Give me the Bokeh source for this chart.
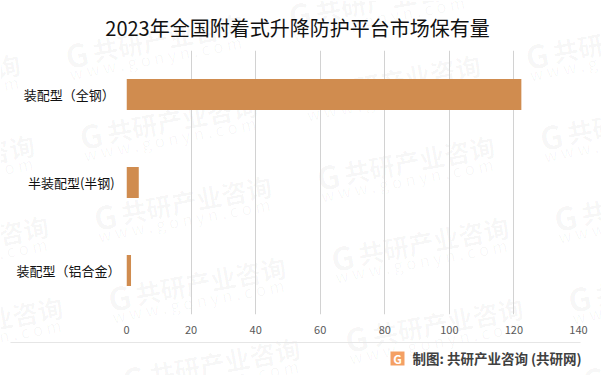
from bokeh.plotting import figure
from bokeh.layouts import column
from bokeh.models import FixedTicker, Range1d, FactorRange
from bokeh.core.properties import value
from bokeh.embed import file_html
from bokeh.resources import INLINE

categories = ["装配型（铝合金）", "半装配型(半钢)\u00a0\u00a0", "装配型（全钢）\u00a0\u00a0"]
values = [1.4, 3.8, 122.3]
x_ticks = [0, 20, 40, 60, 80, 100, 120, 140]
title_text = "2023年全国附着式升降防护平台市场保有量"
footer_text = "制图: 共研产业咨询 (共研网)"
wm_name = "共研产业咨询"
wm_site = "w w w . g o n y n . c o m"
FONT = "Noto Sans CJK SC"
W, H = 601, 375

# Page layer: pixel-scaled figure holding watermark, title and footer
bg = figure(width=W, height=H, output_backend="svg", toolbar_location=None,
            x_range=Range1d(0, W), y_range=Range1d(H, 0),
            min_border=0, x_axis_type=None, y_axis_type=None, margin=(0, 0, 0, 0))
bg.grid.visible = False
bg.outline_line_color = None
bg.background_fill_color = "white"
bg.border_fill_color = "white"

ax, ay = 14.2, 81
bx, by = 223, -40
for i in range(-2, 5):
    for j in range(-2, 6):
        gx = 65 + i * bx + j * ax
        gy = 55 + i * by + j * ay
        if gx < -160 or gx > 600 or gy < -30 or gy > 380:
            continue
        for txt, dx, dy, size, style in (("G", 0, 0, "32px", "bold"),
                                         (wm_name, 27, -5, "25.5px", "bold"),
                                         (wm_site, 4, 18, "16.5px", "normal")):
            bg.text(x=[gx + dx], y=[gy + dy], text=[txt], text_font=value(FONT), text_font_size=size,
                    text_font_style=style, text_color="#000000", text_alpha=0.035, angle=10.5,
                    angle_units="deg", text_baseline="middle", text_align="left")

bg.text(x=[297], y=[27], text=[title_text], text_font=value(FONT), text_font_size="20px",
        text_color="#111111", text_align="center", text_baseline="middle")
bg.quad(left=[10], right=[580], top=[341.5], bottom=[342.5], fill_color="#E6E6E6", line_color=None)
bg.quad(left=[390], right=[404], top=[351], bottom=[365], fill_color="#F4A064", line_color=None)
bg.text(x=[397], y=[358], text=["G"], text_font=value(FONT), text_font_size="12px", text_font_style="bold",
        text_color="white", text_align="center", text_baseline="middle")
bg.text(x=[412], y=[357], text=[footer_text], text_font=value(FONT), text_font_size="13.5px",
        text_font_style="bold", text_color="#404040", text_align="left", text_baseline="middle")

# Chart layer, laid over the page layer
p = figure(width=W, height=H, output_backend="svg", toolbar_location=None,
           x_range=Range1d(0, 140), y_range=FactorRange(*categories, range_padding=0),
           min_border_left=126, min_border_right=23, min_border_top=50, min_border_bottom=61,
           margin=(-H, 0, 0, 0))
p.outline_line_color = None
p.background_fill_alpha = 0
p.border_fill_alpha = 0

p.hbar(y=categories, right=values, left=0, height=0.352, fill_color="#D08C4F", line_color=None)

p.xgrid.ticker = FixedTicker(ticks=x_ticks)
p.xgrid.grid_line_color = "#D2D2D2"
p.xgrid.grid_line_width = 1
p.ygrid.grid_line_color = None

p.xaxis.ticker = FixedTicker(ticks=x_ticks)
p.xaxis.axis_line_color = None
p.xaxis.major_tick_line_color = None
p.xaxis.minor_tick_line_color = None
p.xaxis.major_label_text_color = "#595959"
p.xaxis.major_label_text_font = FONT
p.xaxis.major_label_text_font_size = "11px"
p.xaxis.major_label_standoff = 5

p.yaxis.axis_line_color = None
p.yaxis.major_tick_line_color = None
p.yaxis.minor_tick_line_color = None
p.yaxis.major_label_text_color = "#111111"
p.yaxis.major_label_text_font = FONT
p.yaxis.major_label_text_font_size = "13px"
p.yaxis.major_label_standoff = 0

root = column(column(bg, margin=(0, 0, 0, 0)), p, spacing=0)
open("out.html", "w").write(file_html(root, INLINE))
